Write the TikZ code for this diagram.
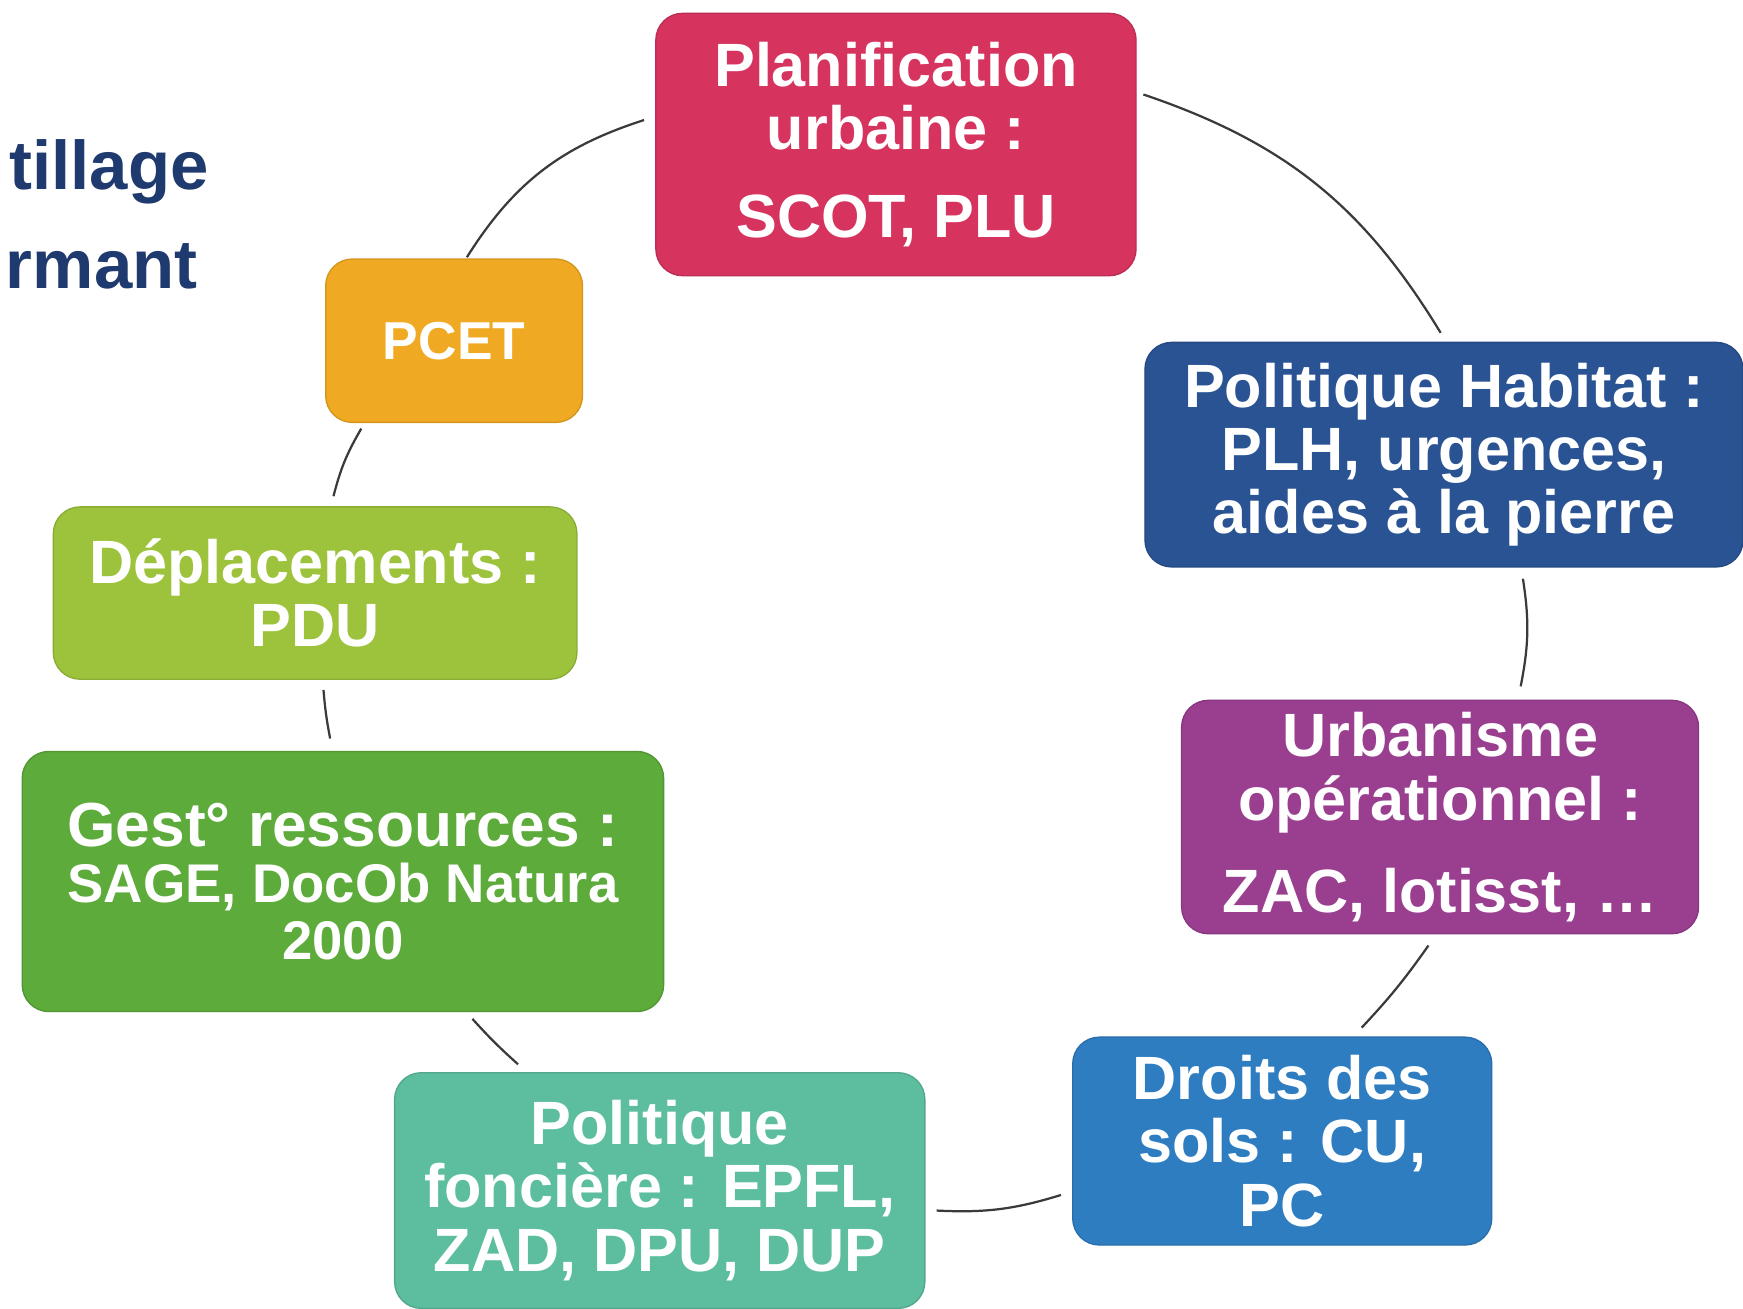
\documentclass[tikz,border=0pt]{standalone}
\usepackage{fontspec}
\setmainfont{Liberation Sans}
\definecolor{cplan}{HTML}{D6335E}
\definecolor{chab}{HTML}{2A5394}
\definecolor{curb}{HTML}{9A3F90}
\definecolor{cdroits}{HTML}{2F7DC1}
\definecolor{cfonc}{HTML}{5CBE9F}
\definecolor{cgest}{HTML}{5DAB3B}
\definecolor{cdepl}{HTML}{9DC33C}
\definecolor{cpcet}{HTML}{F0A922}
\definecolor{ctitle}{HTML}{1F3A6E}
\definecolor{cline}{HTML}{3A3A3A}
\tikzset{
  box/.style={rectangle, rounded corners=12pt, inner sep=0pt, align=center,
    text=white, font=\bfseries\fontsize{27.5}{28.5}\selectfont,
    draw=#1!88!black, fill=#1, line width=0.6pt},
  conn/.style={draw=cline, line width=1pt},
  titletext/.style={anchor=east, inner sep=0pt, text=ctitle,
    font=\bfseries\fontsize{31}{32}\selectfont},
}
\begin{document}
\begin{tikzpicture}[x=0.5pt,y=-0.5pt]
\useasboundingbox[fill=white] (0,0) rectangle (1568,1177);

\node[titletext] (t1) at (188,155) {tillage};
\node[titletext] (t2) at (178,240) {rmant};

\node[box=cplan, minimum width=216pt, minimum height=118pt] (plan) at (806,130)
  {Planification\\urbaine :\\[11pt]SCOT, PLU};
\node[box=chab, minimum width=269pt, minimum height=101pt] (hab) at (1299,409)
  {Politique Habitat :\\PLH, urgences,\\aides à la pierre};
\node[box=curb, minimum width=232.5pt, minimum height=105pt] (urb) at (1295.5,735)
  {Urbanisme\\opérationnel :\\[13pt]ZAC, lotisst, …};
\node[box=cdroits, minimum width=188.5pt, minimum height=93.5pt] (droits) at (1153.5,1026.5)
  {Droits des\\sols : CU,\\PC};
\node[box=cfonc, minimum width=238.5pt, minimum height=106pt] (fonc) at (593.5,1071)
  {Politique\\foncière : EPFL,\\ZAD, DPU, DUP};
\node[box=cgest, minimum width=288.5pt, minimum height=117pt,
      font=\bfseries\fontsize{24.5}{25.5}\selectfont] (gest) at (308.5,793)
  {{\fontsize{28}{28}\selectfont Gest° ressources :}\\SAGE, DocOb Natura\\2000};
\node[box=cdepl, minimum width=235.5pt, minimum height=77.5pt] (depl) at (283.5,533.5)
  {Déplacements :\\PDU};
\node[box=cpcet, minimum width=115.5pt, minimum height=73.5pt,
      font=\bfseries\fontsize{24}{25}\selectfont] (pcet) at (408.5,306.5)
  {PCET};

\draw[conn] ([shift={(11.5,-1)}]pcet.north) to[bend left=20] ([shift={(-10,-22)}]plan.west);
\draw[conn] ([shift={(6,-45)}]plan.east) to[bend left=20] ([shift={(-3,-8)}]hab.north);
\draw[conn] ([shift={(71,10)}]hab.south) to[bend left=10] ([shift={(72.5,-12)}]urb.north);
\draw[conn] ([shift={(-10.5,10)}]urb.south) to[bend left=4] ([shift={(71.5,-8)}]droits.north);
\draw[conn] ([shift={(-10,48.5)}]droits.west) to[bend left=10] ([shift={(10,18)}]fonc.east);
\draw[conn] ([shift={(-127.5,-7)}]fonc.north) to[bend left=3] ([shift={(116.5,6)}]gest.south);
\draw[conn] ([shift={(-11.5,-11)}]gest.north) to[bend left=3] ([shift={(7.5,9)}]depl.south);
\draw[conn] ([shift={(16.5,-9)}]depl.north) to[bend left=8] ([shift={(-83.5,5)}]pcet.south);
\end{tikzpicture}
\end{document}
